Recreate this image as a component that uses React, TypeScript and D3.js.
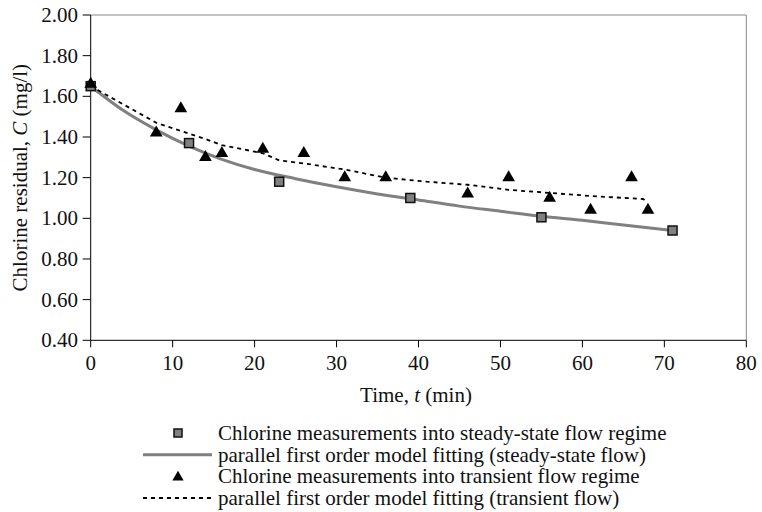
import React from "react";
import * as d3 from "d3";

const steadyT = [0, 12, 23, 39, 55, 71];
const steadyC = [1.65, 1.37, 1.18, 1.10, 1.005, 0.94];

const transT = [0, 8, 11, 14, 16, 21, 26, 31, 36, 46, 51, 56, 61, 66, 68];
const transC = [1.66, 1.42, 1.54, 1.30, 1.32, 1.34, 1.32, 1.20, 1.20, 1.12, 1.20, 1.10, 1.04, 1.20, 1.04];

const steadyFitT = [0, 4, 8, 12, 16, 20, 25, 30, 35, 40, 45, 50, 55, 60, 65, 71];
const steadyFitC = [1.65, 1.53, 1.435, 1.355, 1.29, 1.24, 1.195, 1.155, 1.12, 1.09, 1.06, 1.035, 1.01, 0.99, 0.967, 0.94];

const transFitT = [0, 8, 11, 14, 16, 21, 23, 26, 31, 36, 41, 46, 51, 56, 61, 66, 67.4, 68];
const transFitC = [1.65, 1.47, 1.43, 1.39, 1.36, 1.32, 1.285, 1.27, 1.24, 1.20, 1.18, 1.165, 1.14, 1.125, 1.11, 1.098, 1.095, 1.08];

const xTicks = [0, 10, 20, 30, 40, 50, 60, 70, 80];
const yTicks = [0.4, 0.6, 0.8, 1.0, 1.2, 1.4, 1.6, 1.8, 2.0];

const legendLabels = [
  "Chlorine measurements into steady-state flow regime",
  "parallel first order model fitting (steady-state flow)",
  "Chlorine measurements into transient flow regime",
  "parallel first order model fitting (transient flow)",
];

const FONT = "'Liberation Serif', 'Times New Roman', serif";

export default function App() {
  const W = 762, H = 512;
  const L = 90.7, R = 746.3, T = 15, B = 340.3;
  const FS = 21;
  const x = d3.scaleLinear().domain([0, 80]).range([L, R]);
  const y = d3.scaleLinear().domain([0.4, 2.0]).range([B, T]);

  const steadyLine = d3
    .line<number>()
    .x((_, i) => x(steadyFitT[i]))
    .y((d) => y(d))
    .curve(d3.curveMonotoneX)(steadyFitC) as string;

  const transLine = d3
    .line<number>()
    .x((_, i) => x(transFitT[i]))
    .y((d) => y(d))(transFitC) as string;

  const tri = d3.symbol().type(d3.symbolTriangle).size(70)() as string;
  const triSmall = d3.symbol().type(d3.symbolTriangle).size(55)() as string;

  const legY = [433, 454.7, 476.3, 498];

  return (
    <svg width={W} height={H} style={{ position: "absolute", left: 0, top: 0, background: "#fff" }} fontFamily={FONT}>
      {/* frame */}
      <line x1={L} x2={R} y1={T} y2={T} stroke="#888" strokeWidth={1} />
      <line x1={R} x2={R} y1={T} y2={B} stroke="#888" strokeWidth={1} />
      {/* axes */}
      <line x1={L} x2={L} y1={T} y2={B} stroke="#000" strokeWidth={1} />
      <line x1={L} x2={R} y1={B} y2={B} stroke="#000" strokeWidth={1} />
      {yTicks.map((t) => (
        <g key={"y" + t}>
          <line x1={L - 8} x2={L} y1={y(t)} y2={y(t)} stroke="#000" />
          <text x={78} y={y(t)} dy="0.34em" textAnchor="end" fontSize={FS} fill="#111">
            {t.toFixed(2)}
          </text>
        </g>
      ))}
      {xTicks.map((t) => (
        <g key={"x" + t}>
          <line x1={x(t)} x2={x(t)} y1={B} y2={B + 7} stroke="#000" />
          <text x={x(t)} y={370} textAnchor="middle" fontSize={FS} fill="#111">
            {t}
          </text>
        </g>
      ))}
      <text x={416} y={401.5} textAnchor="middle" fontSize={FS} fill="#111">
        Time, <tspan fontStyle="italic">t</tspan> (min)
      </text>
      <text
        transform={`translate(26.5,${(T + B) / 2}) rotate(-90)`}
        textAnchor="middle"
        fontSize={FS}
        fill="#111"
      >
        Chlorine residual, <tspan fontStyle="italic">C</tspan> (mg/l)
      </text>

      {/* fits */}
      <path d={steadyLine} fill="none" stroke="#808080" strokeWidth={3} />
      <path d={transLine} fill="none" stroke="#000" strokeWidth={1.8} strokeDasharray="4,4" />

      {/* points */}
      {steadyT.map((t, i) => (
        <rect
          key={"s" + i}
          x={x(t) - 4.5}
          y={y(steadyC[i]) - 4.5}
          width={9}
          height={9}
          fill="#808080"
          stroke="#111"
          strokeWidth={1.5}
        />
      ))}
      {transT.map((t, i) => (
        <path key={"t" + i} d={tri} transform={`translate(${x(t)},${y(transC[i])})`} fill="#000" />
      ))}

      {/* legend */}
      <rect x={178 - 4} y={legY[0] - 4} width={8} height={8} fill="#808080" stroke="#111" strokeWidth={1.5} />
      <line x1={143} x2={212} y1={legY[1]} y2={legY[1]} stroke="#808080" strokeWidth={3} />
      <path d={triSmall} transform={`translate(178,${legY[2] + 1})`} fill="#000" />
      <line x1={143} x2={212} y1={legY[3]} y2={legY[3]} stroke="#000" strokeWidth={1.8} strokeDasharray="4,4" />
      {legendLabels.map((s, i) => (
        <text key={"l" + i} x={218} y={legY[i] + 7} fontSize={FS} fill="#111">
          {s}
        </text>
      ))}
    </svg>
  );
}
